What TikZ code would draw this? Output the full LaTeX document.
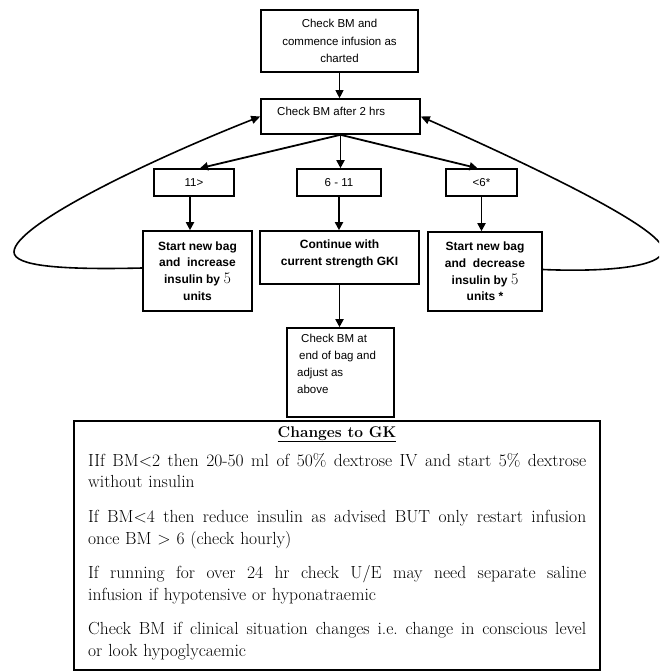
\documentclass[tikz,border=0pt]{standalone}
\usepackage{fontspec}
\setsansfont{Liberation Sans}
\usetikzlibrary{arrows.meta}
% serif figure used inside the bold action boxes
\newcommand\unitfive{{\rmfamily\mdseries\fontsize{16}{16}\selectfont 5}}
% one fully justified line of the notes panel
\newcommand\fullline[1]{\leavevmode\hbox to 498pt{\spaceskip=0.25em plus 1fil\relax #1}}
\begin{document}
\begin{tikzpicture}[x=1pt,y=-1pt,
  box/.style={draw, line width=1.6pt, inner sep=0pt, align=center,
    font=\sffamily\fontsize{11.5}{17.5}\selectfont},
  boldbox/.style={box, font=\sffamily\bfseries\fontsize{12}{16.7}\selectfont},
  lbl/.style={inner sep=0pt, align=left, font=\sffamily\fontsize{11.5}{17}\selectfont},
  boldlbl/.style={inner sep=0pt, align=center, font=\sffamily\bfseries\fontsize{12}{16.7}\selectfont},
  flow/.style={line width=1.8pt, -{Triangle[length=8pt,width=8pt]}},
  thinflow/.style={line width=0.9pt, -{Triangle[length=8pt,width=8pt]}},
  loopback/.style={line width=1.6pt, -{Triangle[length=9pt,width=8pt]}},
]
\useasboundingbox (0,0) rectangle (659,671);
\clip (0,0) rectangle (659,671);

% ---- flowchart boxes ----
\node[box, line width=2.2pt, minimum width=157pt, minimum height=62pt] (start) at (339.5,41)
  {Check BM and\\commence infusion as\\charted};
\node[box, minimum width=159pt, minimum height=35pt] (chk) at (340.5,116.5) {};
\node[lbl, anchor=west] (chktxt) at (277,111) {Check BM after 2 hrs};

\node[box, minimum width=80pt, minimum height=27pt] (hi) at (194,182.5) {11>};
\node[box, minimum width=84pt, minimum height=27pt] (mid) at (339,182.5) {6 - 11};
\node[box, minimum width=71pt, minimum height=27pt] (lo) at (481.5,182.5) {<6*};

\node[boldbox, minimum width=109pt, minimum height=80pt] (inc) at (197.5,271)
  {Start new bag\\and\ \ increase\\insulin by \unitfive\\units};
\node[boldbox, minimum width=159pt, minimum height=53pt] (cont) at (339.5,257.5) {};
\node[boldlbl, anchor=north] (conttxt) at (339.5,239.5) {Continue with\\current strength GKI};
\node[boldbox, minimum width=114pt, minimum height=79pt] (dec) at (485,271.5)
  {Start new bag\\and\ \ decrease\\insulin by \unitfive\\units *};

\node[box, minimum width=107pt, minimum height=89pt] (endb) at (340.5,372.5) {};
\node[lbl, anchor=north west] (endtxt) at (297,334)
  {\hspace*{4pt}Check BM at\\\hspace*{2pt}end of bag and\\adjust as\\above};

% ---- connectors ----
\draw[thinflow] (start.south) -- (start.south |- chk.north);
\draw[flow] (chk.south) -- ([xshift=6pt]hi.north);
\draw[flow] (chk.south) -- (chk.south |- mid.north);
\draw[flow] (chk.south) -- ([xshift=-4pt]lo.north);
\draw[flow] ([xshift=-4pt]hi.south) -- ([xshift=-4pt]hi.south |- inc.north);
\draw[flow] (mid.south) -- (mid.south |- cont.north);
\draw[flow] (lo.south) -- (lo.south |- dec.north);
\draw[flow] (cont.south) -- (cont.south |- endb.north);

% loops back to the two-hourly check
\draw[loopback] ([yshift=3pt]inc.west) .. controls (60,270) and (14,266) .. (14,252)
  .. controls (14,225) and (150,160) .. (chk.west);
\draw[loopback] ([yshift=2pt]dec.east) .. controls (600,272) and (663,268) .. (663,250)
  .. controls (663,228) and (530,165) .. (chk.east);

% ---- notes panel (bottom edge runs along the page edge) ----
\node[draw, line width=1.2pt, minimum width=526pt, minimum height=249pt, inner sep=0pt]
  (notes) at (337,545.5) {};
\node[inner sep=0pt, anchor=base, font=\rmfamily\bfseries\fontsize{15.5}{18}\selectfont]
  (head) at (337,437) {\underline{Changes to GK}};
\node[inner sep=0pt, anchor=north west, text width=498pt, align=left,
  font=\rmfamily\fontsize{17.5}{21.6}\selectfont] (rules) at (88,453)
  {\frenchspacing
   \fullline{IIf BM<2 then 20-50 ml of 50\% dextrose IV and start 5\% dextrose}\\
   without insulin\\[13pt]
   \fullline{If BM<4 then reduce insulin as advised BUT only restart infusion}\\
   once BM > 6 (check hourly)\\[13pt]
   \fullline{If running for over 24 hr check U/E may need separate saline}\\
   infusion if hypotensive or hyponatraemic\\[13pt]
   \fullline{Check BM if clinical situation changes i.e. change in conscious level}\\
   or look hypoglycaemic};
\end{tikzpicture}
\end{document}
